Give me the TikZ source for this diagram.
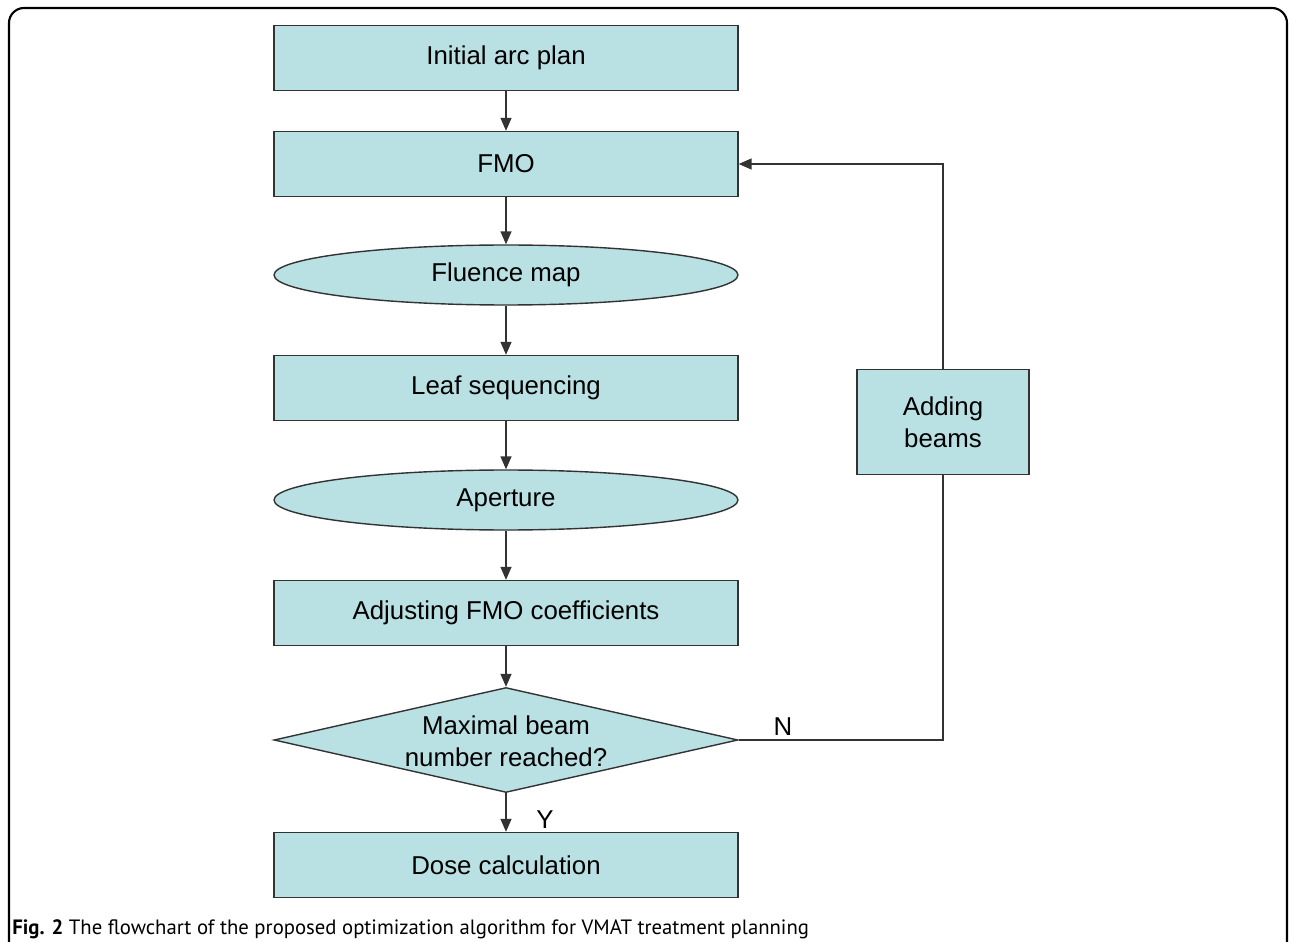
\documentclass[tikz,border=0pt]{standalone}
\usepackage{fontspec}
\setmainfont{Liberation Sans}
\newfontfamily\capfont{PT Sans}
\usetikzlibrary{shapes.geometric,arrows.meta}
\definecolor{boxfill}{HTML}{B9E0E3}
\definecolor{edgegray}{HTML}{333333}
\begin{document}
\begin{tikzpicture}[x=0.02cm,y=-0.02cm,>={Triangle[length=0.26cm,width=0.22cm]},
  every node/.style={font=\fontsize{14.7}{18}\selectfont},
  box/.style={draw=edgegray,line width=0.8pt,fill=boxfill,minimum width=9.28cm,minimum height=1.3cm,inner sep=0pt},
  oval/.style={box,ellipse,minimum height=1.2cm},
  decision/.style={draw=edgegray,line width=0.8pt,fill=boxfill,diamond,minimum width=9.28cm,minimum height=2.1cm,inner sep=0pt},
  line/.style={draw=edgegray,line width=0.8pt}]

% 画布与外框
\clip (0,0) rectangle (1295,942);
\draw[line width=1.2pt,rounded corners=0.3cm] (9,990) |- (1287,8) -- (1287,990);

% 主流程
\node[box] (init) at (506,58) {Initial arc plan};
\node[box] (fmo) at (506,164) {FMO};
\node[oval] (flu) at (506,275) {Fluence map};
\node[box] (leaf) at (506,388) {Leaf sequencing};
\node[oval] (ape) at (506,500) {Aperture};
\node[box] (adj) at (506,613) {Adjusting FMO coefficients};
\node[decision] (dec) at (506,740) {};
\node[align=center] (dectext) at (506,741) {Maximal beam\\number reached?};
\node[box] (dose) at (506,865) {Dose calculation};

% 回路
\node[box,minimum width=3.44cm,minimum height=2.1cm,align=center] (add) at (943,422) {Adding\\beams};

% 连线
\draw[line,->] (init) -- (fmo);
\draw[line,->] (fmo) -- (flu);
\draw[line,->] (flu) -- (leaf);
\draw[line,->] (leaf) -- (ape);
\draw[line,->] (ape) -- (adj);
\draw[line,->] (adj) -- (dec);
\draw[line,->] (dec) -- (dose);
\draw[line] (dec.east) -| (add);
\draw[line,->] (add) |- (fmo);

% 标记 Y, N
\node (ylab) at (545,820) {Y};
\node (nlab) at (783,727) {N};

% 图题
\node[anchor=base west,inner sep=0pt,font=\capfont\fontsize{11.8}{14}\selectfont] (cap) at (12,934) {\textbf{Fig. 2} The flowchart of the proposed optimization algorithm for VMAT treatment planning};

\end{tikzpicture}
\end{document}
